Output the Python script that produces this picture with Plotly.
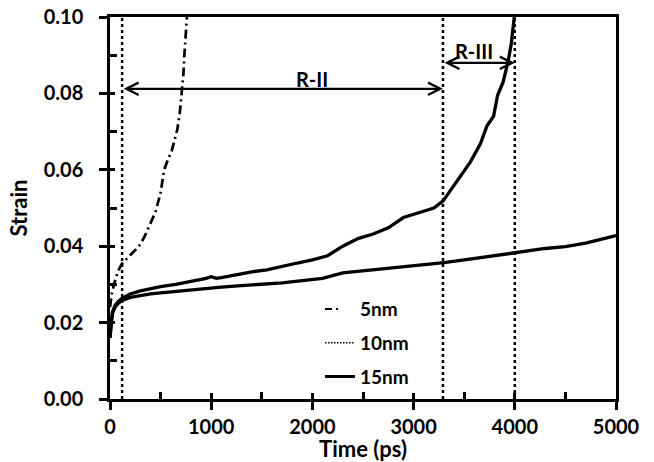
import plotly.graph_objects as go

# Strain vs time for three grain sizes
t5 = [0, 20, 50, 80, 120, 160, 200, 250, 300, 350, 400, 450, 500, 535, 570, 610, 640, 665, 690, 710, 725, 735, 760]
s5 = [0.024, 0.028, 0.031, 0.0335, 0.0355, 0.0365, 0.0375, 0.039, 0.0405, 0.043, 0.046, 0.049, 0.054,
      0.060, 0.0625, 0.065, 0.068, 0.0705, 0.075, 0.080, 0.085, 0.090, 0.100]

t10 = [0, 10, 25, 50, 80, 120, 200, 300, 400, 500, 650, 800, 950, 1000, 1050, 1100, 1250, 1400, 1550,
       1700, 1850, 2000, 2150, 2300, 2450, 2600, 2750, 2900, 3050, 3200, 3290, 3360, 3460, 3560, 3660,
       3725, 3790, 3810, 3830, 3885, 3935, 3965, 3995]
s10 = [0.016, 0.020, 0.0228, 0.0245, 0.0255, 0.0264, 0.0275, 0.0283, 0.0289, 0.0294, 0.0300, 0.0307,
       0.0316, 0.0320, 0.0316, 0.0318, 0.0326, 0.0333, 0.0338, 0.0348, 0.0356, 0.0364, 0.0375, 0.0400,
       0.0420, 0.0432, 0.0448, 0.0475, 0.0488, 0.0500, 0.0518, 0.0545, 0.0580, 0.0620, 0.0668, 0.0715,
       0.0740, 0.0770, 0.0795, 0.0830, 0.0885, 0.0930, 0.1000]

t15 = [0, 10, 25, 50, 80, 120, 200, 300, 400, 500, 650, 800, 950, 1100, 1300, 1500, 1700, 1900, 2100,
       2300, 2500, 2700, 2900, 3100, 3300, 3500, 3700, 3900, 4100, 4300, 4500, 4700, 4850, 5000]
s15 = [0.016, 0.020, 0.0225, 0.024, 0.025, 0.0258, 0.0266, 0.0271, 0.0275, 0.0278, 0.0282, 0.0286,
       0.0289, 0.0293, 0.0297, 0.0300, 0.0304, 0.0310, 0.0316, 0.0330, 0.0335, 0.0340, 0.0346, 0.0351,
       0.0357, 0.0364, 0.0372, 0.0380, 0.0388, 0.0394, 0.0399, 0.0408, 0.0418, 0.0428]

# Region boundaries (ps) and labels
boundaries = [120, 3290, 4000]
regions = ["R-II", "R-III"]
arrow_y = [0.0812, 0.0880]
label_y = [0.0838, 0.0911]
label_x = [2000, 3600]

FONT = "Lato"
BLACK = "#000000"

fig = go.Figure()

# Region boundary lines (drawn on the overlay axes, which share the same ranges)
for b in boundaries:
    fig.add_trace(go.Scatter(x=[b, b], y=[0, 0.1], mode="lines", showlegend=False,
                             xaxis="x2", yaxis="y2",
                             line=dict(color=BLACK, width=2.5, dash="dot")))

fig.add_trace(go.Scatter(x=t15, y=s15, mode="lines", showlegend=False,
                         line=dict(color=BLACK, width=3.3)))
fig.add_trace(go.Scatter(x=t10, y=s10, mode="lines", showlegend=False,
                         line=dict(color=BLACK, width=3.3)))
fig.add_trace(go.Scatter(x=t5, y=s5, mode="lines", showlegend=False,
                         line=dict(color=BLACK, width=2.7, dash="9px,4px,2px,4px")))

# Legend entries
legend_styles = [("5nm", dict(color=BLACK, width=2, dash="7px,4px,2px,20px")),
                 ("10nm", dict(color=BLACK, width=1.5, dash="1.5px,1.5px")),
                 ("15nm", dict(color=BLACK, width=3))]
for name, ln in legend_styles:
    fig.add_trace(go.Scatter(x=[None], y=[None], mode="lines", name=name, line=ln,
                             legendgroup=name))

# Region arrows and labels
for i, name in enumerate(regions):
    x0, x1 = boundaries[i], boundaries[i + 1]
    fig.add_annotation(x=x1, y=arrow_y[i], ax=x0, ay=arrow_y[i], xref="x", yref="y",
                       axref="x", ayref="y", text="", showarrow=True,
                       arrowhead=5, startarrowhead=5, arrowside="end+start",
                       arrowsize=1.1, startarrowsize=1.1, arrowwidth=2.2, arrowcolor=BLACK,
                       standoff=0, startstandoff=0)
    fig.add_annotation(x=label_x[i], y=label_y[i], text=name, showarrow=False,
                       xref="x", yref="y",
                       font=dict(family=FONT, size=20, color=BLACK, weight="bold"))

tickfont = dict(family=FONT, size=20, color=BLACK, weight="bold")
titlefont = dict(family=FONT, size=22, color=BLACK, weight="bold")

axis_common = dict(showgrid=False, zeroline=False, showline=True, linecolor=BLACK,
                   linewidth=2.5, mirror=True, ticks="outside", ticklen=8, tickwidth=2.5,
                   tickcolor=BLACK, automargin=False, tickfont=tickfont)
# Overlay axes supply the inner half of the crossing major ticks plus inner minor ticks
overlay_common = dict(showgrid=False, zeroline=False, showline=False, showticklabels=False,
                      ticks="inside", tickwidth=2.5, tickcolor=BLACK, automargin=False)

fig.update_layout(
    width=654, height=462,
    margin=dict(l=110, r=38, t=17, b=63),
    paper_bgcolor="white", plot_bgcolor="white",
    font=dict(family=FONT, color=BLACK),
    xaxis=dict(range=[0, 5000], dtick=1000, tickformat="d",
               title=dict(text="Time (ps)", standoff=0, font=titlefont),
               **axis_common),
    yaxis=dict(range=[0, 0.1], dtick=0.02, tickformat=".2f", ticklabelstandoff=12,
               title=dict(text="Strain", standoff=10, font=titlefont),
               **axis_common),
    xaxis2=dict(range=[0, 5000], dtick=1000, overlaying="x", anchor="y2", side="bottom",
                ticklen=6,
                minor=dict(dtick=500, ticks="inside", ticklen=7, tickwidth=2.5, tickcolor=BLACK),
                **overlay_common),
    yaxis2=dict(range=[0, 0.1], dtick=0.02, overlaying="y", anchor="x2", side="left",
                ticklen=5,
                minor=dict(dtick=0.01, ticks="inside", ticklen=7, tickwidth=2.5, tickcolor=BLACK),
                **overlay_common),
    legend=dict(x=0.415, y=0.285, xanchor="left", yanchor="top", bgcolor="rgba(0,0,0,0)",
                traceorder="grouped", tracegroupgap=6,
                font=dict(family=FONT, size=19, color=BLACK, weight="bold")),
    showlegend=True,
)

fig.write_html("out.html")
